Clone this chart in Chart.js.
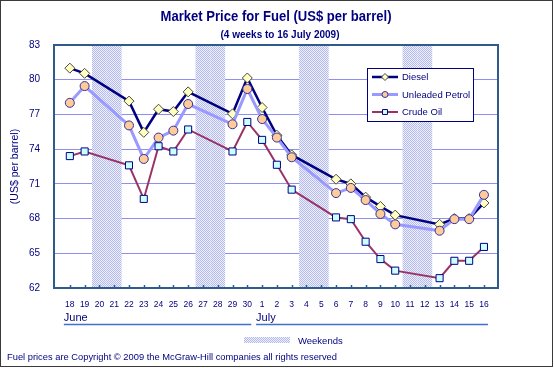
<!DOCTYPE html>
<html>
<head>
<meta charset="utf-8">
<script src="https://cdn.jsdelivr.net/npm/chart.js@4/dist/chart.umd.min.js"></script>
<style>
  html, body { margin: 0; padding: 0; background: #fff; }
</style>
</head>
<body>
<canvas id="chart" width="554" height="368"></canvas>
<script>
// days on the x axis: 18 June .. 16 July 2009
const days = ['18','19','20','21','22','23','24','25','26','27','28','29','30',
              '1','2','3','4','5','6','7','8','9','10','11','12','13','14','15','16'];
const months = ['June', 'July'];
const monthFirst = [0, 13];   // index of the first day of each month
const monthLast = [12, 28];
const weekendIdx = [2, 3, 9, 10, 16, 17, 23, 24];
const yTicks = [62, 65, 68, 71, 74, 77, 80, 83];

// US$ per barrel, null = no trading (weekend)
const diesel = [81.0, 80.55, null, null, 78.15, 75.45, 77.45, 77.25, 78.95, null, null, 77.05, 80.15,
                77.6, 75.2, 73.5, null, null, 71.4, 71.0, 69.85, 69.05, 68.3, null, null, 67.5, 68.0, 68.0, 69.35];
const petrol = [78.0, 79.45, null, null, 76.05, 73.15, 75.0, 75.6, 77.9, null, null, 76.15, 79.2,
                76.6, 75.0, 73.3, null, null, 70.2, 70.65, 69.6, 68.4, 67.5, null, null, 66.95, 67.95, 67.95, 70.05];
const crude = [73.4, 73.8, null, null, 72.6, 69.7, 74.25, 73.8, 75.7, null, null, 73.8, 76.35,
               74.8, 72.65, 70.5, null, null, 68.1, 67.95, 66.0, 64.5, 63.5, null, null, 62.85, 64.35, 64.35, 65.55];

const FONT = '"Liberation Sans", Arial, sans-serif';
const NAVY = '#000080';

const toPoints = (arr) => arr.map((v, i) => v == null ? null : { x: i, y: v }).filter(Boolean);

let weekendFill = null;
function getWeekendFill(ctx) {
  if (weekendFill) return weekendFill;
  const c = document.createElement('canvas');
  c.width = 2; c.height = 2;
  const p = c.getContext('2d');
  p.fillStyle = '#eef0fc'; p.fillRect(0, 0, 2, 2);
  p.fillStyle = '#b4b9ee'; p.fillRect(0, 0, 1, 1); p.fillRect(1, 1, 1, 1);
  weekendFill = ctx.createPattern(c, 'repeat');
  return weekendFill;
}

const decor = {
  id: 'decor',
  beforeDraw(chart) {
    const ctx = chart.ctx;
    ctx.save();
    ctx.fillStyle = '#fff';
    ctx.fillRect(0, 0, chart.width, chart.height);
    ctx.strokeStyle = '#3a3a3a';
    ctx.lineWidth = 1;
    ctx.strokeRect(0.5, 0.5, chart.width - 2, chart.height - 2);
    ctx.restore();
  },
  beforeDatasetsDraw(chart) {
    const ctx = chart.ctx, a = chart.chartArea, x = chart.scales.x;
    ctx.save();
    ctx.fillStyle = getWeekendFill(ctx);
    weekendIdx.forEach(i => {
      const x0 = x.getPixelForValue(i - 0.5), x1 = x.getPixelForValue(i + 0.5);
      ctx.fillRect(x0, a.top, x1 - x0, a.bottom - a.top);
    });
    // plot frame
    ctx.strokeStyle = '#2f5b8c';
    ctx.lineWidth = 2;
    ctx.strokeRect(a.left, a.top, a.right - a.left, a.bottom - a.top);
    // small ticks pointing into the plot
    ctx.lineWidth = 1.5;
    days.forEach((d, i) => {
      const px = Math.round(x.getPixelForValue(i)) + 0.5;
      ctx.beginPath();
      ctx.moveTo(px, a.bottom);
      ctx.lineTo(px, a.bottom - 3);
      ctx.stroke();
    });
    ctx.restore();
  },
  afterDraw(chart) {
    const ctx = chart.ctx, x = chart.scales.x;
    ctx.save();
    ctx.fillStyle = NAVY;
    ctx.textAlign = 'center';
    ctx.textBaseline = 'middle';
    ctx.font = 'bold 14px ' + FONT;
    ctx.fillText('Market Price for Fuel (US$ per barrel)', 276, 17, 231);
    ctx.font = 'bold 10px ' + FONT;
    ctx.fillText('(4 weeks to 16 July 2009)', 280, 35, 126);

    // months under the day labels
    ctx.textAlign = 'left';
    ctx.font = '11px ' + FONT;
    ctx.strokeStyle = '#3f6fcf';
    ctx.lineWidth = 1.5;
    months.forEach((m, k) => {
      const x0 = x.getPixelForValue(monthFirst[k]) - 6;
      const x1 = x.getPixelForValue(monthLast[k]) + 4;
      ctx.fillText(m, x0, 317.5);
      ctx.beginPath();
      ctx.moveTo(x0, 324.5);
      ctx.lineTo(x1, 324.5);
      ctx.stroke();
    });

    // weekends key
    ctx.fillStyle = getWeekendFill(ctx);
    ctx.fillRect(244, 337, 46, 6);
    ctx.fillStyle = NAVY;
    ctx.font = '9.5px ' + FONT;
    ctx.fillText('Weekends', 298, 341);

    // footer
    ctx.font = '9.5px ' + FONT;
    ctx.fillText('Fuel prices are Copyright \u00A9 2009 the McGraw-Hill companies all rights reserved', 7, 357, 330);

    // series legend
    const lx = 367, ly = 68, lw = 106, lh = 53;
    ctx.fillStyle = '#fff';
    ctx.fillRect(lx, ly, lw, lh);
    ctx.strokeStyle = NAVY;
    ctx.lineWidth = 1;
    ctx.strokeRect(lx + 0.5, ly + 0.5, lw, lh);
    const rows = [77, 94.5, 112];
    chart.data.datasets.forEach((ds, k) => {
      const y = rows[k];
      ctx.strokeStyle = ds.borderColor;
      ctx.lineWidth = ds.borderWidth;
      ctx.beginPath();
      ctx.moveTo(372, y);
      ctx.lineTo(398, y);
      ctx.stroke();
      ctx.fillStyle = ds.pointBackgroundColor;
      ctx.strokeStyle = ds.pointBorderColor;
      ctx.lineWidth = 1;
      Chart.helpers.drawPoint(ctx, { pointStyle: ds.pointStyle, radius: ds.pointRadius - 1.5, rotation: 0, borderWidth: 1 }, 385, y);
      ctx.fillStyle = NAVY;
      ctx.font = '9.5px ' + FONT;
      ctx.textAlign = 'left';
      ctx.fillText(ds.label, 402, y + 0.5);
    });
    ctx.restore();
  }
};

new Chart(document.getElementById('chart'), {
  type: 'line',
  data: {
    datasets: [
      {
        label: 'Diesel', data: toPoints(diesel), order: 3,
        borderColor: '#000080', borderWidth: 2.5,
        pointStyle: 'rectRot', pointRadius: 5,
        pointBackgroundColor: '#ffffc4', pointBorderColor: '#4a4a3a', pointBorderWidth: 1
      },
      {
        label: 'Unleaded Petrol', data: toPoints(petrol), order: 2,
        borderColor: '#9999ff', borderWidth: 3,
        pointStyle: 'circle', pointRadius: 4.5,
        pointBackgroundColor: '#ffcc99', pointBorderColor: '#333399', pointBorderWidth: 1
      },
      {
        label: 'Crude Oil', data: toPoints(crude), order: 1,
        borderColor: '#993366', borderWidth: 2,
        pointStyle: 'rect', pointRadius: 5,
        pointBackgroundColor: '#ccffff', pointBorderColor: '#000080', pointBorderWidth: 1
      }
    ]
  },
  options: {
    responsive: false,
    animation: false,
    devicePixelRatio: 1,
    layout: { padding: { top: 45, right: 56, bottom: 0, left: 0 } },
    plugins: {
      legend: { display: false },
      tooltip: { enabled: false }
    },
    elements: { line: { tension: 0 } },
    scales: {
      x: {
        type: 'linear', min: -1.07, max: 28.95,
        afterBuildTicks: (s) => { s.ticks = days.map((d, i) => ({ value: i })); },
        afterFit: (s) => { s.height = 80; },
        grid: { display: false, drawTicks: false },
        border: { display: false },
        ticks: {
          autoSkip: false, maxRotation: 0, padding: 12,
          color: NAVY, font: { family: FONT, size: 8.5 },
          callback: (v) => days[v]
        }
      },
      y: {
        min: 62, max: 83,
        afterBuildTicks: (s) => { s.ticks = yTicks.map(v => ({ value: v })); },
        afterFit: (s) => { s.width = 54; },
        grid: { color: '#8f8ff2', lineWidth: 1, drawTicks: false },
        border: { display: false },
        ticks: { padding: 14, color: NAVY, font: { family: FONT, size: 10 } },
        title: {
          display: true, text: '(US$ per barrel)', color: NAVY,
          font: { family: FONT, size: 10.5 }, padding: { top: 9, bottom: 0 }
        }
      }
    }
  },
  plugins: [decor]
});
</script>
</body>
</html>
